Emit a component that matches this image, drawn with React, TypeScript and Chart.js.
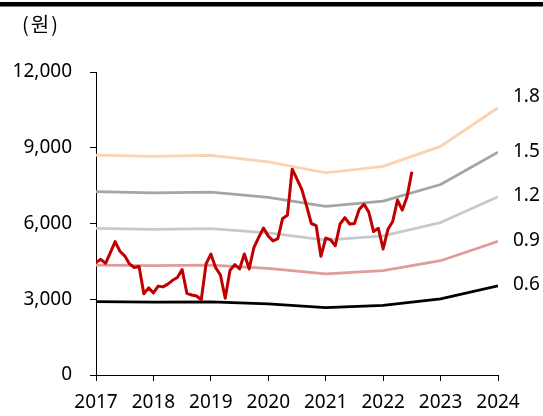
import React, { useEffect, useRef } from "react";
import { Chart, registerables } from "chart.js";

Chart.register(...registerables);

const START_YEAR = 2017;
const END_YEAR = 2024;
const bandYears = [2017, 2018, 2019, 2020, 2021, 2022, 2023, 2024];

// monthly closing price, Jan 2017 - Jul 2022
const priceValues = [
  4450, 4580, 4420, 4850, 5280, 4900, 4720, 4400, 4260, 4300, 3220, 3450,
  3250, 3520, 3490, 3600, 3750, 3860, 4180, 3230, 3170, 3130, 2980, 4400,
  4790, 4250, 3960, 3040, 4150, 4370, 4200, 4790, 4200, 5050, 5450, 5820,
  5500, 5310, 5400, 6200, 6330, 8150, 7760, 7350, 6700, 6000, 5920, 4700,
  5420, 5360, 5120, 5980, 6230, 5980, 6000, 6560, 6760, 6450, 5680, 5810,
  4990, 5770, 6080, 6930, 6530, 7060, 8050,
];

const band06 = [2904, 2886, 2898, 2814, 2670, 2754, 3018, 3528];
const band09 = [4356, 4329, 4347, 4221, 4005, 4131, 4527, 5292];
const band12 = [5808, 5772, 5796, 5628, 5340, 5508, 6036, 7056];
const band15 = [7260, 7215, 7245, 7035, 6675, 6885, 7545, 8820];
const band18 = [8712, 8658, 8694, 8442, 8010, 8262, 9054, 10584];

const bandLabels = ["1.8", "1.5", "1.2", "0.9", "0.6"];
const yTicks = [0, 3000, 6000, 9000, 12000];
const unitLabel = "(원)";

const FONT = "'Noto Sans', 'Noto Sans CJK KR', sans-serif";

export default function App() {
  const ref = useRef<HTMLCanvasElement | null>(null);

  useEffect(() => {
    document.body.style.margin = "0";
    const canvas = ref.current!;
    const mk = (vals: number[]) => vals.map((v, i) => ({ x: bandYears[i], y: v }));
    const priceData = priceValues.map((v, i) => ({ x: START_YEAR + i / 12, y: v }));

    const decor = {
      id: "decor",
      beforeDraw(chart: any) {
        const ctx = chart.ctx;
        ctx.save();
        ctx.fillStyle = "#fff";
        ctx.fillRect(0, 0, chart.width, chart.height);
        ctx.fillStyle = "#000";
        ctx.fillRect(0, 2, chart.width, 4.5);
        ctx.font = `20px 'Noto Sans CJK KR', sans-serif`;
        ctx.textAlign = "left";
        ctx.textBaseline = "middle";
        ctx.fillStyle = "#000";
        try { (ctx as any).letterSpacing = "2px"; } catch (e) {}
        ctx.fillText(unitLabel, 22, 24);
        try { (ctx as any).letterSpacing = "0px"; } catch (e) {}
        ctx.restore();
      },
      afterDatasetsDraw(chart: any) {
        const ctx = chart.ctx;
        ctx.save();
        ctx.font = `19px ${FONT}`;
        ctx.fillStyle = "#000";
        ctx.textAlign = "left";
        ctx.textBaseline = "middle";
        for (let d = 1; d < chart.data.datasets.length; d++) {
          const meta = chart.getDatasetMeta(d);
          const last = meta.data[meta.data.length - 1];
          const label = bandLabels[d - 1];
          const off = label === "1.8" ? -11 : -1;
          ctx.fillText(label, chart.chartArea.right + 15, last.y + off);
        }
        ctx.restore();
      },
    };

    const chart = new Chart(canvas, {
      type: "line",
      data: {
        datasets: [
          { label: "주가", data: priceData, borderColor: "#C00000", borderWidth: 3 },
          { label: "1.8", data: mk(band18), borderColor: "#FCD2AE", borderWidth: 2.75 },
          { label: "1.5", data: mk(band15), borderColor: "#A5A5A5", borderWidth: 2.75 },
          { label: "1.2", data: mk(band12), borderColor: "#C9C9C9", borderWidth: 2.75 },
          { label: "0.9", data: mk(band09), borderColor: "#DE9C9A", borderWidth: 2.75 },
          { label: "0.6", data: mk(band06), borderColor: "#000000", borderWidth: 2.75 },
        ] as any,
      },
      options: {
        animation: false,
        responsive: false,
        devicePixelRatio: 1,
        elements: { point: { radius: 0 }, line: { tension: 0, borderJoinStyle: "round" } },
        layout: { padding: { top: 72, right: 45, left: 0, bottom: 0 } },
        plugins: { legend: { display: false }, tooltip: { enabled: false } },
        scales: {
          x: {
            type: "linear",
            min: START_YEAR,
            max: END_YEAR,
            afterBuildTicks: (s: any) => {
              s.ticks = bandYears.map((v) => ({ value: v }));
            },
            ticks: {
              color: "#000",
              font: { family: FONT, size: 19 },
              padding: 10,
              maxRotation: 0,
              autoSkip: false,
              callback: (v: any) => String(v),
            },
            grid: { drawOnChartArea: false, drawTicks: true, tickLength: 6, color: "#000", lineWidth: 1 },
            border: { color: "#000", width: 1 },
            afterFit: (s: any) => {
              s.height = 41;
            },
          },
          y: {
            min: 0,
            max: 12000,
            afterBuildTicks: (s: any) => {
              s.ticks = yTicks.map((v) => ({ value: v }));
            },
            ticks: {
              color: "#000",
              font: { family: FONT, size: 19 },
              padding: 18,
              callback: (v: any) => Number(v).toLocaleString("en-US"),
            },
            grid: { drawOnChartArea: false, drawTicks: true, tickLength: 6, color: "#000", lineWidth: 1 },
            border: { color: "#000", width: 1 },
            afterFit: (s: any) => {
              s.width = 96;
            },
          },
        },
      } as any,
      plugins: [decor],
    });
    return () => chart.destroy();
  }, []);

  return (
    <div style={{ position: "fixed", left: 0, top: 0, width: 543, height: 416 }}>
      <canvas ref={ref} width={543} height={416} style={{ width: 543, height: 416 }} />
    </div>
  );
}
